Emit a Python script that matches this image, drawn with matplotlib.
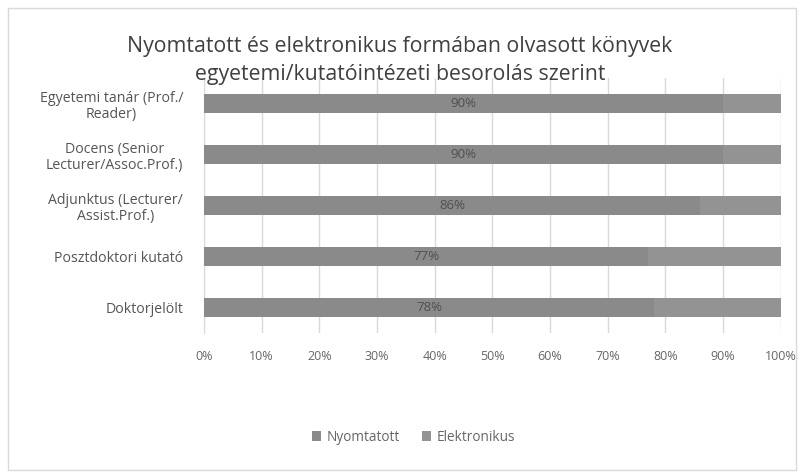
import matplotlib
matplotlib.use("Agg")
import matplotlib.pyplot as plt
from matplotlib.patches import Rectangle

categories = ["Egyetemi tanár (Prof./\nReader)",
              "Docens (Senior\nLecturer/Assoc.Prof.)",
              "Adjunktus (Lecturer/\nAssist.Prof.)",
              "Posztdoktori kutató",
              "Doktorjelölt"]
nyomtatott = [90, 90, 86, 77, 78]
elektronikus = [10, 10, 14, 23, 22]
series_names = ["Nyomtatott", "Elektronikus"]
xticks = [0, 10, 20, 30, 40, 50, 60, 70, 80, 90, 100]
xticklabels = [f"{v}%" for v in xticks]
title = "Nyomtatott és elektronikus formában olvasott könyvek\negyetemi/kutatóintézeti besorolás szerint"

plt.rcParams['font.family'] = ['Open Sans', 'DejaVu Sans']

fig = plt.figure(figsize=(8, 4.74), dpi=100)
fig.patches.append(Rectangle((0.01, 0.008), 0.985, 0.975, transform=fig.transFigure,
                             fill=False, edgecolor="#d9d9d9", linewidth=1))
ax = fig.add_axes([0.255, 0.297, 0.721, 0.538])

y = list(range(len(categories)))
c1, c2 = "#8a8a8a", "#939393"
ax.barh(y, nyomtatott, height=0.37, color=c1, label=series_names[0], zorder=3)
ax.barh(y, elektronikus, left=nyomtatott, height=0.37, color=c2, label=series_names[1], zorder=3)
for yi, v in zip(y, nyomtatott):
    ax.text(v / 2, yi, f"{v}%", ha="center", va="center", fontsize=9.5, color="#505050", zorder=4)

ax.set_xlim(0, 100)
ax.set_ylim(len(categories) - 0.5, -0.5)
ax.set_yticks(y)
ax.set_yticklabels(categories, fontsize=10.2, color="#555555", ha="right",
                   multialignment="center", linespacing=1.15)
ax.set_xticks(xticks)
ax.set_xticklabels(xticklabels, fontsize=9, color="#666666")
ax.tick_params(axis="y", length=0, pad=15)
ax.tick_params(axis="x", length=0, pad=12)
ax.grid(axis="x", color="#d9d9d9", linewidth=1, zorder=0)
for s in ["top", "right", "bottom"]:
    ax.spines[s].set_visible(False)
ax.spines["left"].set_color("#d9d9d9")

fig.text(0.5, 0.873, title, ha="center", va="center", fontsize=15.3, color="#404040",
         linespacing=1.42)

handles, labels = ax.get_legend_handles_labels()
fig.legend(handles, labels, loc="center", bbox_to_anchor=(0.517, 0.077), ncol=2, frameon=False,
           fontsize=9.8, labelcolor="#666666", handlelength=0.7, handleheight=0.7,
           handletextpad=0.4, columnspacing=1.6)

fig.savefig("out.png", dpi=100)
